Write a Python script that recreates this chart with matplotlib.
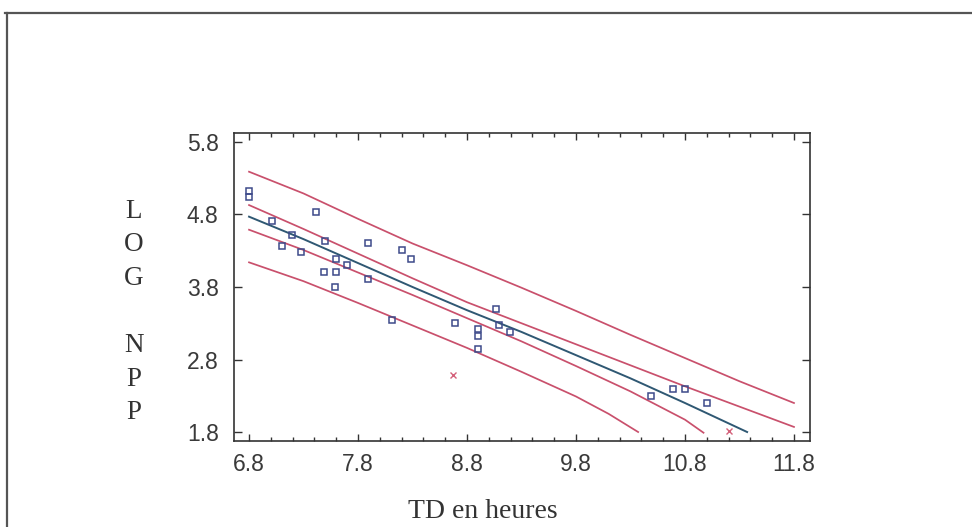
import matplotlib
matplotlib.use("Agg")
import matplotlib.pyplot as plt
from matplotlib.lines import Line2D
from matplotlib.ticker import MultipleLocator, FixedLocator

# ---- data ----
obs_x = [6.8, 6.8, 7.01, 7.10, 7.19, 7.28, 7.41, 7.50, 7.49, 7.60, 7.60, 7.59, 7.70,
         7.89, 7.89, 8.11, 8.20, 8.29, 8.69, 8.90, 8.90, 8.90, 9.07, 9.09, 9.19,
         10.49, 10.69, 10.80, 11.0]
obs_y = [5.12, 5.04, 4.71, 4.37, 4.52, 4.28, 4.84, 4.44, 4.01, 4.19, 4.01, 3.80, 4.10,
         4.40, 3.91, 3.34, 4.31, 4.19, 3.31, 3.22, 3.12, 2.94, 3.49, 3.28, 3.18,
         2.30, 2.39, 2.39, 2.20]

out_x = [8.67, 11.2]
out_y = [2.59, 1.81]

fit_x = [6.8, 7.3, 7.8, 8.3, 8.8, 9.3, 9.8, 10.3, 10.8, 11.37]
fit_y = [4.77, 4.46, 4.13, 3.80, 3.48, 3.18, 2.86, 2.54, 2.20, 1.80]

ci_up_x = [6.8, 7.3, 7.8, 8.3, 8.8, 9.3, 9.8, 10.3, 10.8, 11.3, 11.8]
ci_up_y = [4.93, 4.60, 4.26, 3.92, 3.59, 3.30, 3.01, 2.72, 2.43, 2.15, 1.87]

ci_lo_x = [6.8, 7.3, 7.8, 8.3, 8.8, 9.3, 9.8, 10.3, 10.8, 10.97]
ci_lo_y = [4.59, 4.31, 4.00, 3.69, 3.37, 3.05, 2.71, 2.36, 1.97, 1.79]

pi_up_x = [6.8, 7.3, 7.8, 8.3, 8.8, 9.3, 9.8, 10.3, 10.8, 11.3, 11.8]
pi_up_y = [5.39, 5.09, 4.74, 4.40, 4.10, 3.79, 3.47, 3.14, 2.82, 2.50, 2.20]

pi_lo_x = [6.8, 7.3, 7.8, 8.3, 8.8, 9.3, 9.8, 10.1, 10.37]
pi_lo_y = [4.14, 3.88, 3.58, 3.27, 2.96, 2.63, 2.29, 2.05, 1.80]

x_ticks = [6.8, 7.8, 8.8, 9.8, 10.8, 11.8]
y_ticks = [1.8, 2.8, 3.8, 4.8, 5.8]

# ---- figure ----
W, H = 972, 527
fig = plt.figure(figsize=(W / 100, H / 100), dpi=100)
fig.patch.set_facecolor("white")

# outer frame (top and left edges visible)
fig.add_artist(Line2D([5 / W, 1.0], [1 - 13 / H, 1 - 13 / H], transform=fig.transFigure,
                      color="#555555", lw=1.6))
fig.add_artist(Line2D([7 / W, 7 / W], [1 - 13 / H, 0.0], transform=fig.transFigure,
                      color="#555555", lw=1.6))

ax = fig.add_axes([234 / W, 1 - 441 / H, (810 - 234) / W, (441 - 133) / H])

red = "#c9506c"
blue_line = "#2f5873"
sq_col = "#3d4a8a"

ax.plot(pi_up_x, pi_up_y, color=red, lw=1.25)
ax.plot(pi_lo_x, pi_lo_y, color=red, lw=1.25)
ax.plot(ci_up_x, ci_up_y, color=red, lw=1.25)
ax.plot(ci_lo_x, ci_lo_y, color=red, lw=1.25)
ax.plot(fit_x, fit_y, color=blue_line, lw=1.4)
ax.plot(obs_x, obs_y, linestyle="none", marker="s", markersize=4.4,
        markerfacecolor="none", markeredgecolor=sq_col, markeredgewidth=1.1)
ax.plot(out_x, out_y, linestyle="none", marker="x", markersize=5,
        color="#d4607a", markeredgewidth=1.0)

ax.set_xlim(6.662, 11.947)
ax.set_ylim(1.676, 5.924)

ax.xaxis.set_major_locator(FixedLocator(x_ticks))
ax.xaxis.set_minor_locator(MultipleLocator(0.2))
ax.yaxis.set_major_locator(FixedLocator(y_ticks))
ax.set_xticklabels([f"{v:.1f}" for v in x_ticks])
ax.set_yticklabels([f"{v:.1f}" for v in y_ticks])

for s in ax.spines.values():
    s.set_color("#333333")
    s.set_linewidth(1.2)

ax.tick_params(axis="both", which="both", direction="in", top=True, right=True,
               color="#333333", width=1.0)
ax.tick_params(axis="x", which="major", length=5, pad=8.5)
ax.tick_params(axis="x", which="minor", length=3)
ax.tick_params(axis="y", which="major", length=6, pad=11)
for lab in ax.get_xticklabels() + ax.get_yticklabels():
    lab.set_fontfamily("Liberation Sans")
    lab.set_fontsize(16.5)
    lab.set_color("#3a3a3a")

fig.text(134 / W, 1 - 312 / H, "L\nO\nG\n\nN\nP\nP", ha="center", va="center",
         family="Liberation Serif", fontsize=19.5, color="#333333", linespacing=1.45)
fig.text(483 / W, 1 - 512 / H, "TD en heures", ha="center", va="center",
         family="Liberation Serif", fontsize=20, color="#333333")

fig.savefig("out.png", dpi=100, facecolor="white")
